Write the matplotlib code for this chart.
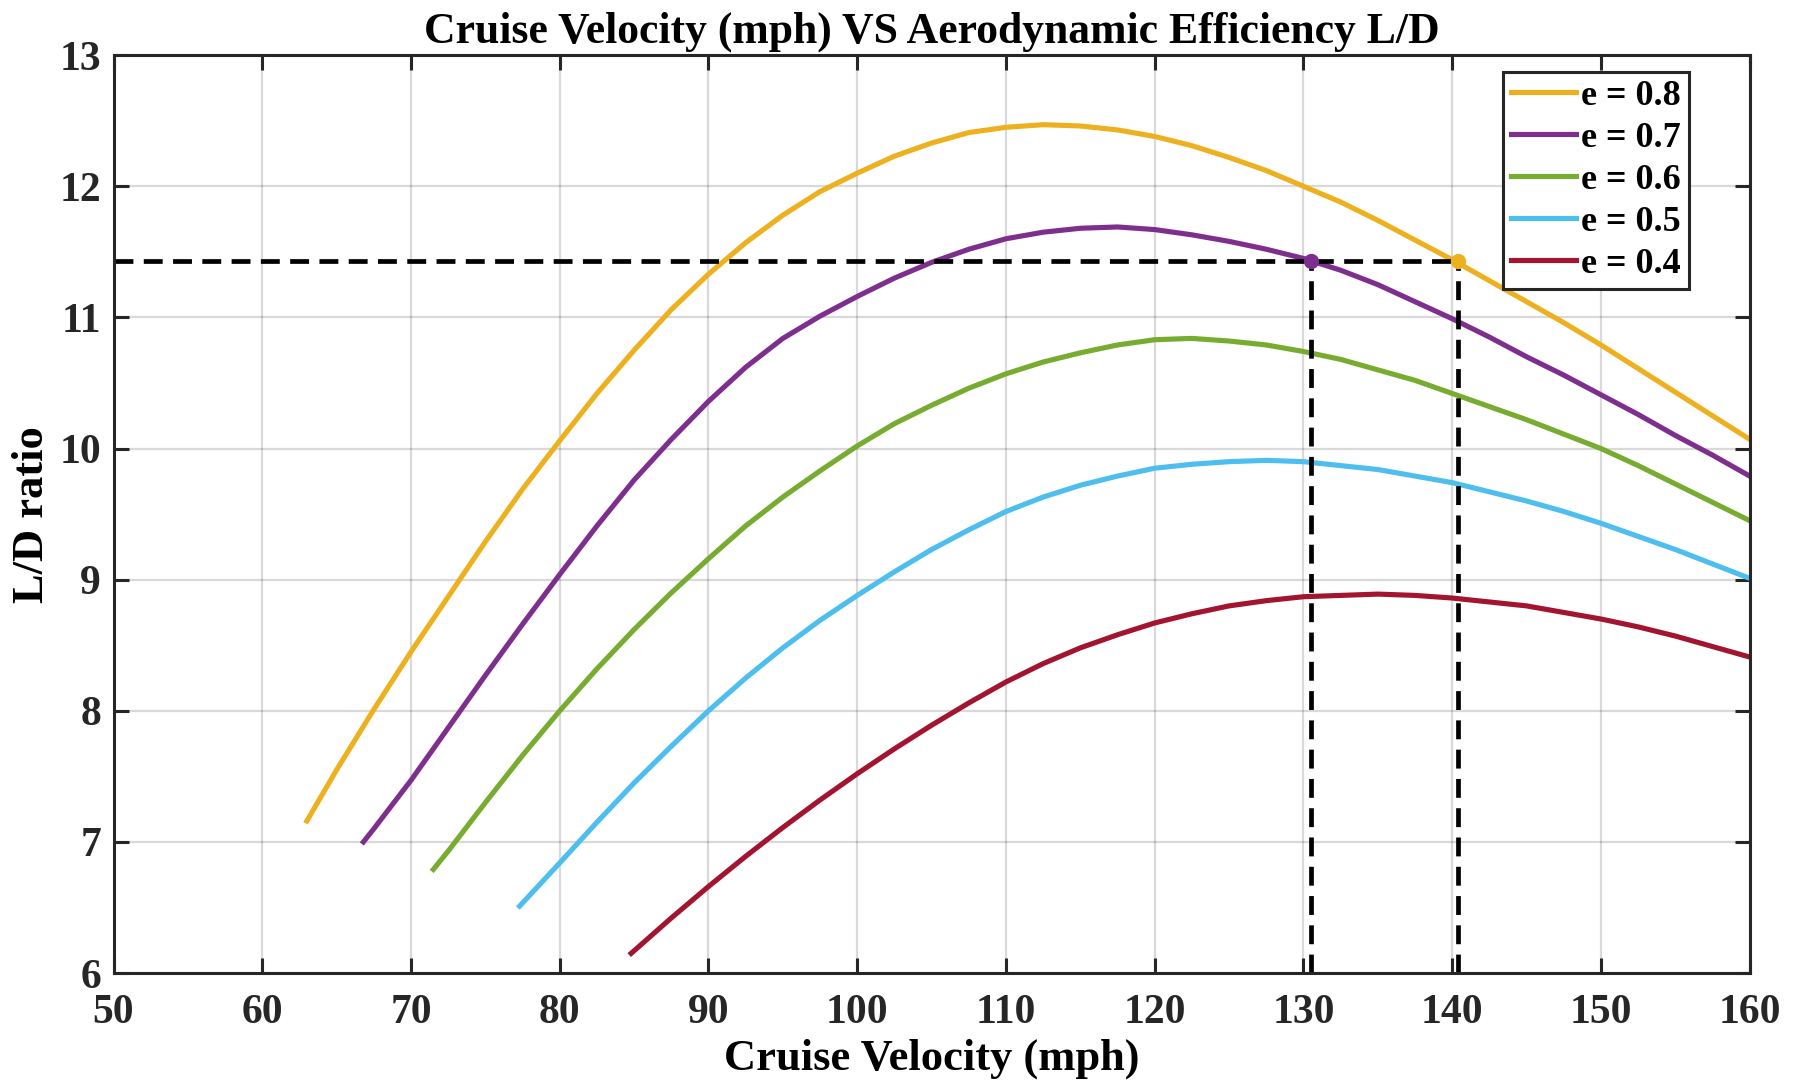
import numpy as np
import matplotlib
matplotlib.use('Agg')
import matplotlib.pyplot as plt

plt.rcParams['font.family'] = ['Liberation Serif', 'DejaVu Serif']
plt.rcParams['font.weight'] = 'bold'

# datos (velocidad en mph, L/D)
v_08 = [63, 65, 67.5, 70, 72.5, 75, 77.5, 80, 82.5, 85, 87.5, 90, 92.5, 95, 97.5, 100, 102.5, 105,
        107.5, 110, 112.5, 115, 117.5, 120, 122.5, 125, 127.5, 130, 132.5, 135, 137.5, 140, 142.5,
        145, 147.5, 150, 152.5, 155, 157.5, 160]
ld_08 = [7.16, 7.55, 8.01, 8.45, 8.87, 9.29, 9.69, 10.06, 10.42, 10.75, 11.06, 11.33, 11.57, 11.78,
         11.96, 12.10, 12.23, 12.33, 12.41, 12.45, 12.47, 12.46, 12.43, 12.38, 12.31, 12.22, 12.12,
         12.00, 11.88, 11.74, 11.59, 11.44, 11.28, 11.12, 10.96, 10.79, 10.61, 10.43, 10.25, 10.07]

v_07 = [66.8, 67.5, 70, 72.5, 75, 77.5, 80, 82.5, 85, 87.5, 90, 92.5, 95, 97.5, 100, 102.5, 105,
        107.5, 110, 112.5, 115, 117.5, 120, 122.5, 125, 127.5, 130, 132.5, 135, 137.5, 140, 142.5,
        145, 147.5, 150, 152.5, 155, 157.5, 160]
ld_07 = [7.00, 7.10, 7.47, 7.87, 8.27, 8.66, 9.04, 9.41, 9.76, 10.07, 10.36, 10.62, 10.84, 11.01,
         11.16, 11.30, 11.42, 11.52, 11.60, 11.65, 11.68, 11.69, 11.67, 11.63, 11.58, 11.52, 11.45,
         11.36, 11.25, 11.12, 10.99, 10.85, 10.70, 10.56, 10.41, 10.26, 10.10, 9.95, 9.79]

v_06 = [71.5, 72.5, 75, 77.5, 80, 82.5, 85, 87.5, 90, 92.5, 95, 97.5, 100, 102.5, 105, 107.5, 110,
        112.5, 115, 117.5, 120, 122.5, 125, 127.5, 130, 132.5, 135, 137.5, 140, 142.5, 145, 147.5,
        150, 152.5, 155, 157.5, 160]
ld_06 = [6.79, 6.93, 7.30, 7.66, 8.00, 8.32, 8.62, 8.90, 9.16, 9.41, 9.63, 9.83, 10.02, 10.19, 10.33,
         10.46, 10.57, 10.66, 10.73, 10.79, 10.83, 10.84, 10.82, 10.79, 10.74, 10.68, 10.60, 10.52,
         10.42, 10.32, 10.22, 10.11, 10.00, 9.87, 9.73, 9.59, 9.45]

v_05 = [77.3, 80, 82.5, 85, 87.5, 90, 92.5, 95, 97.5, 100, 102.5, 105, 107.5, 110, 112.5, 115, 117.5,
        120, 122.5, 125, 127.5, 130, 132.5, 135, 137.5, 140, 142.5, 145, 147.5, 150, 152.5, 155,
        157.5, 160]
ld_05 = [6.51, 6.84, 7.15, 7.45, 7.73, 8.00, 8.25, 8.48, 8.69, 8.88, 9.06, 9.23, 9.38, 9.52, 9.63,
         9.72, 9.79, 9.85, 9.88, 9.90, 9.91, 9.90, 9.87, 9.84, 9.79, 9.74, 9.67, 9.60, 9.52, 9.43,
         9.33, 9.23, 9.12, 9.01]

v_04 = [84.8, 87.5, 90, 92.5, 95, 97.5, 100, 102.5, 105, 107.5, 110, 112.5, 115, 117.5, 120, 122.5,
        125, 127.5, 130, 132.5, 135, 137.5, 140, 142.5, 145, 147.5, 150, 152.5, 155, 157.5, 160]
ld_04 = [6.15, 6.42, 6.66, 6.89, 7.11, 7.32, 7.52, 7.71, 7.89, 8.06, 8.22, 8.36, 8.48, 8.58, 8.67,
         8.74, 8.80, 8.84, 8.87, 8.88, 8.89, 8.88, 8.86, 8.83, 8.80, 8.75, 8.70, 8.64, 8.57, 8.49, 8.41]

# punto de diseño
ld_obj = 11.43
v_e07 = 130.5
v_e08 = 140.4

fig = plt.figure(figsize=(17.99, 10.82), dpi=100)
ax = fig.add_axes([0.0631, 0.1007, 0.9095, 0.8483])

lw = 3.7
ax.plot(v_08, ld_08, color='#EDB120', lw=lw, solid_joinstyle='round', label='e = 0.8')
ax.plot(v_07, ld_07, color='#7E2F8E', lw=lw, solid_joinstyle='round', label='e = 0.7')
ax.plot(v_06, ld_06, color='#77AC30', lw=lw, solid_joinstyle='round', label='e = 0.6')
ax.plot(v_05, ld_05, color='#4DBEEE', lw=lw, solid_joinstyle='round', label='e = 0.5')
ax.plot(v_04, ld_04, color='#A2142F', lw=lw, solid_joinstyle='round', label='e = 0.4')

ax.plot([50, v_e08], [ld_obj, ld_obj], 'k--', lw=3.4, dashes=(4, 2.2))
ax.plot([v_e07, v_e07], [6, ld_obj], 'k--', lw=3.4, dashes=(4, 2.2))
ax.plot([v_e08, v_e08], [6, ld_obj], 'k--', lw=3.4, dashes=(4, 2.2))
ax.plot(v_e07, ld_obj, 'o', color='#7E2F8E', ms=10)
ax.plot(v_e08, ld_obj, 'o', color='#EDB120', ms=10)

ax.set_xlim(50, 160)
ax.set_ylim(6, 13)
ax.set_xticks(np.arange(50, 161, 10))
ax.set_yticks(np.arange(6, 14, 1))
ax.grid(True, color='black', alpha=0.15, lw=1.6)
ax.tick_params(direction='in', length=11, width=2.2, top=True, right=True,
               labelsize=30, colors='#262626')
ax.tick_params(axis='x', pad=15)
ax.tick_params(axis='y', pad=9)
for s in ax.spines.values():
    s.set_linewidth(2.2)
    s.set_color('#262626')

ax.set_title('Cruise Velocity (mph) VS Aerodynamic Efficiency L/D', fontsize=31.5,
             fontweight='bold', pad=9)
ax.set_xlabel('Cruise Velocity (mph)', fontsize=32, fontweight='bold', labelpad=5)
ax.set_ylabel('L/D ratio', fontsize=32, fontweight='bold', labelpad=5)

leg = ax.legend(loc='upper right', bbox_to_anchor=(0.9627, 0.9818), fontsize=26,
                handlelength=1.8, handletextpad=0.15, borderpad=0.22, labelspacing=0.24,
                fancybox=False, framealpha=1, borderaxespad=0)
leg.get_frame().set_edgecolor('#262626')
leg.get_frame().set_linewidth(2.2)

plt.savefig('out.png', dpi=100)
